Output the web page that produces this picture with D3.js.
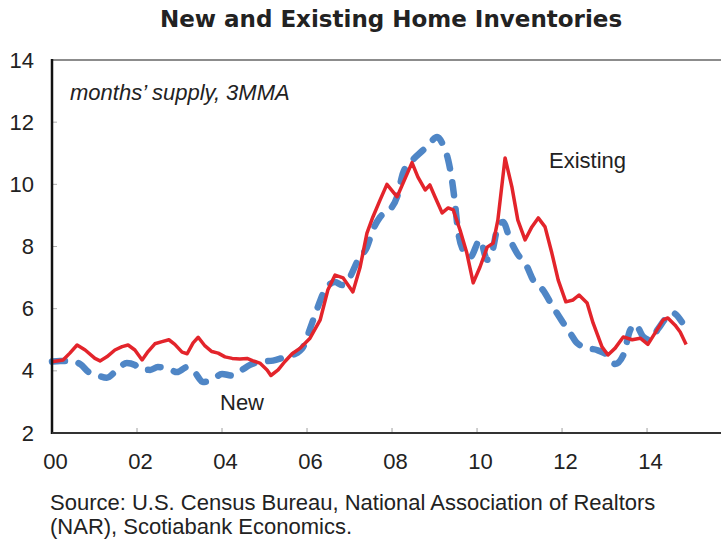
<!DOCTYPE html>
<html>
<head>
<meta charset="utf-8">
<script src="https://cdn.jsdelivr.net/npm/d3@7/dist/d3.min.js"></script>
<style>
  html, body { margin: 0; padding: 0; background: #fff; }
  svg { display: block; }
  text { font-family: "Liberation Sans", Arial, sans-serif; fill: #222; }
</style>
</head>
<body>
<svg id="chart" width="721" height="547"></svg>
<script>
// Months' supply (3-month moving average), decimal years
const existingDates = [
  2000.00, 2000.26, 2000.42, 2000.59, 2000.78, 2001.01, 2001.13, 2001.29, 2001.48, 2001.65,
  2001.79, 2001.95, 2002.12, 2002.26, 2002.42, 2002.59, 2002.75, 2002.89, 2003.06, 2003.18,
  2003.32, 2003.44, 2003.60, 2003.76, 2003.91, 2004.07, 2004.24, 2004.42, 2004.59, 2004.73,
  2004.89, 2005.06, 2005.15, 2005.32, 2005.48, 2005.65, 2005.84, 2006.07, 2006.31, 2006.49,
  2006.66, 2006.85, 2007.08, 2007.25, 2007.41, 2007.55, 2007.72, 2007.88, 2008.12, 2008.26,
  2008.47, 2008.61, 2008.78, 2008.89, 2009.01, 2009.18, 2009.32, 2009.44, 2009.60, 2009.76,
  2009.91, 2010.07, 2010.24, 2010.38, 2010.49, 2010.66, 2010.82, 2010.96, 2011.13, 2011.29,
  2011.44, 2011.60, 2011.76, 2011.91, 2012.09, 2012.26, 2012.40, 2012.59, 2012.73, 2012.94,
  2013.08, 2013.25, 2013.44, 2013.65, 2013.84, 2014.02, 2014.19, 2014.38, 2014.49, 2014.66,
  2014.78, 2014.92
];
const existingValues = [
  4.29, 4.35, 4.57, 4.83, 4.67, 4.40, 4.32, 4.45, 4.67, 4.78,
  4.83, 4.67, 4.35, 4.62, 4.87, 4.94, 5.00, 4.85, 4.60, 4.55,
  4.90, 5.08, 4.80, 4.62, 4.57, 4.45, 4.40, 4.38, 4.40, 4.32,
  4.25, 4.03, 3.85, 4.03, 4.30, 4.55, 4.73, 5.05, 5.64, 6.60,
  7.08, 6.99, 6.54, 7.34, 8.43, 8.95, 9.50, 10.00, 9.60, 10.04,
  10.70, 10.23, 9.82, 9.98, 9.60, 9.08, 9.24, 9.18, 8.53, 7.79,
  6.83, 7.34, 7.98, 8.11, 8.85, 10.85, 9.92, 8.85, 8.21, 8.63,
  8.92, 8.63, 7.79, 6.92, 6.22, 6.28, 6.44, 6.18, 5.54, 4.77,
  4.51, 4.73, 5.09, 5.00, 5.05, 4.85, 5.22, 5.64, 5.70, 5.47,
  5.25, 4.85
];

const newDates = [
  2000.00, 2000.19, 2000.47, 2000.66, 2000.89, 2001.08, 2001.29, 2001.53, 2001.76, 2001.95,
  2002.07, 2002.31, 2002.49, 2002.71, 2002.94, 2003.18, 2003.36, 2003.55, 2003.79, 2004.00,
  2004.24, 2004.47, 2004.66, 2004.89, 2005.20, 2005.44, 2005.67, 2005.91, 2006.07, 2006.24,
  2006.42, 2006.66, 2006.82, 2007.01, 2007.20, 2007.41, 2007.55, 2007.72, 2007.95, 2008.12,
  2008.26, 2008.49, 2008.73, 2008.89, 2009.06, 2009.20, 2009.32, 2009.41, 2009.48, 2009.55,
  2009.67, 2009.84, 2010.07, 2010.24, 2010.35, 2010.49, 2010.61, 2010.78, 2010.94, 2011.18,
  2011.32, 2011.55, 2011.79, 2012.00, 2012.19, 2012.35, 2012.61, 2012.82, 2013.06, 2013.25,
  2013.44, 2013.60, 2013.72, 2013.91, 2014.07, 2014.26, 2014.47, 2014.61, 2014.82
];
const newValues = [
  4.30, 4.32, 4.32, 4.22, 3.93, 3.85, 3.78, 4.03, 4.25, 4.19,
  4.05, 4.03, 4.12, 4.09, 3.96, 4.12, 3.95, 3.64, 3.72, 3.90,
  3.85, 4.03, 4.19, 4.29, 4.33, 4.42, 4.51, 4.77, 5.35, 6.00,
  6.60, 6.86, 6.76, 7.02, 7.57, 7.98, 8.53, 8.95, 9.18, 9.60,
  10.37, 10.79, 11.10, 11.33, 11.52, 11.27, 10.79, 10.14, 9.40, 8.53,
  7.89, 7.66, 8.21, 7.57, 7.79, 8.63, 8.79, 8.21, 7.79, 7.34,
  6.92, 6.60, 6.05, 5.60, 5.22, 4.90, 4.73, 4.67, 4.51, 4.22,
  4.50, 5.30, 5.50, 5.10, 5.00, 5.35, 5.73, 5.86, 5.57
];

const yTicks = [2, 4, 6, 8, 10, 12, 14];
const xTicks = [2000, 2002, 2004, 2006, 2008, 2010, 2012, 2014];
const xTickLabels = ["00", "02", "04", "06", "08", "10", "12", "14"];

const svg = d3.select("#chart");

const x = d3.scaleLinear().domain([2000, 2015.74]).range([52, 721]);
const y = d3.scaleLinear().domain([2, 14]).range([433, 60]);

// Title
svg.append("text")
  .attr("x", 391).attr("y", 27)
  .attr("text-anchor", "middle")
  .style("font-family", "'DejaVu Sans', Verdana, sans-serif")
  .style("font-weight", "bold")
  .style("font-size", "23px")
  .text("New and Existing Home Inventories");

// Top frame line
svg.append("line")
  .attr("x1", x(2000)).attr("x2", 721)
  .attr("y1", y(14)).attr("y2", y(14))
  .attr("stroke", "#8c8c8c").attr("stroke-width", 2);

// Y axis
const yAxis = d3.axisLeft(y).tickValues(yTicks).tickSize(0).tickPadding(18).tickFormat(d3.format("d"));
const gy = svg.append("g").attr("transform", `translate(${x(2000)},0)`).call(yAxis);
gy.select(".domain").remove();
gy.selectAll("text").style("font-size", "22px").attr("fill", "#222");
// inward tick marks
svg.append("g").selectAll("line").data(yTicks.slice(1, -1)).join("line")
  .attr("x1", x(2000)).attr("x2", x(2000) + 5)
  .attr("y1", d => y(d)).attr("y2", d => y(d))
  .attr("stroke", "#b0b0b0").attr("stroke-width", 1);

// X axis
const xAxis = d3.axisBottom(x).tickValues(xTicks).tickSize(0).tickPadding(20)
  .tickFormat((d, i) => xTickLabels[i]);
const gx = svg.append("g").attr("transform", `translate(0,${y(2)})`).call(xAxis);
gx.select(".domain").remove();
gx.selectAll("text").style("font-size", "22px").attr("fill", "#222").attr("dx", "3");
svg.append("g").selectAll("line").data(xTicks.slice(1)).join("line")
  .attr("x1", d => x(d)).attr("x2", d => x(d))
  .attr("y1", y(2)).attr("y2", y(2) - 5)
  .attr("stroke", "#a0a0a0").attr("stroke-width", 1);

// Series
const newLine = d3.line()
  .x((d, i) => x(newDates[i]))
  .y(d => y(d))
  .curve(d3.curveMonotoneX);
const existingLine = d3.line()
  .x((d, i) => x(existingDates[i]))
  .y(d => y(d))
  .curve(d3.curveLinear);

svg.append("path")
  .datum(newValues)
  .attr("d", newLine)
  .attr("fill", "none")
  .attr("stroke", "#4f86c6")
  .attr("stroke-width", 6.5)
  .attr("stroke-linecap", "round")
  .attr("stroke-dasharray", "13,14");

svg.append("path")
  .datum(existingValues)
  .attr("d", existingLine)
  .attr("fill", "none")
  .attr("stroke", "#e3242b")
  .attr("stroke-width", 3.5)
  .attr("stroke-linejoin", "round");

// Axis lines drawn over the series
svg.append("line")
  .attr("x1", x(2000)).attr("x2", x(2000))
  .attr("y1", y(14) - 1).attr("y2", y(2) + 1)
  .attr("stroke", "#111").attr("stroke-width", 2.5);
svg.append("line")
  .attr("x1", x(2000)).attr("x2", 721)
  .attr("y1", y(2)).attr("y2", y(2))
  .attr("stroke", "#333").attr("stroke-width", 2);

// Annotations
svg.append("text")
  .attr("x", 70).attr("y", 100)
  .style("font-style", "italic").style("font-size", "22px")
  .text("months\u2019 supply, 3MMA");
svg.append("text")
  .attr("x", 549).attr("y", 168)
  .style("font-size", "22px")
  .text("Existing");
svg.append("text")
  .attr("x", 220).attr("y", 410)
  .style("font-size", "22px")
  .text("New");

// Source note
const source = svg.append("text").attr("x", 50).attr("y", 510).style("font-size", "22px");
source.append("tspan").attr("x", 50).text("Source: U.S. Census Bureau, National Association of Realtors");
source.append("tspan").attr("x", 50).attr("dy", 24).text("(NAR), Scotiabank Economics.");
</script>
</body>
</html>
